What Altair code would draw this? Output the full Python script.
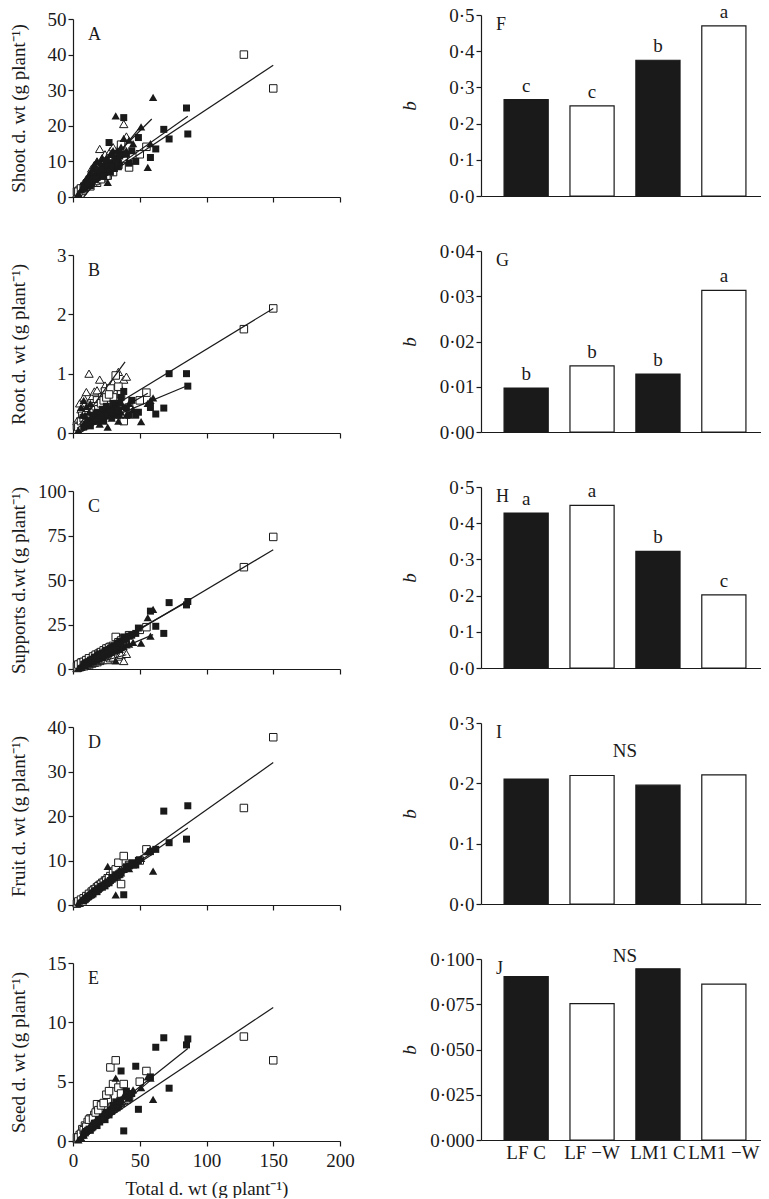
import altair as alt
import pandas as pd

FONT = "Liberation Serif"
INK = "#1a1a1a"
GROUPS = ["LF C", "LF −W", "LM1 C", "LM1 −W"]

# ---------- scatter data (x = total d. wt, per treatment) ----------
# LF C : filled squares
lfc_total = [8, 10, 12, 13, 15, 16, 18, 19, 20, 22, 24, 25, 27, 30, 33, 36, 38, 47, 49, 58, 62, 68, 72, 85, 86,
             9, 11, 14, 17, 21, 23, 26, 28, 29, 31, 32, 34, 35, 40, 42, 44]
lfc_shoot = [3, 3.5, 4.5, 3.2, 5, 6, 5.5, 7, 6, 8, 7, 10, 15.3, 9, 11, 12, 22.3, 10, 16.7, 11.1, 13.5, 19, 16.3, 25, 17.7,
             2.5, 4, 3.8, 5, 7.5, 5.8, 8.5, 7, 9.5, 8, 10.5, 8.5, 11.5, 12, 9.5, 13]
lfc_root = [0.1, 0.15, 0.2, 0.12, 0.25, 0.3, 0.2, 0.35, 0.28, 0.4, 0.3, 0.45, 0.35, 0.5, 0.3, 0.6, 0.7, 0.3, 0.35, 0.43, 0.32, 0.42, 1.0, 1.0, 0.79,
            0.12, 0.18, 0.22, 0.25, 0.3, 0.22, 0.32, 0.4, 0.28, 0.35, 0.45, 0.38, 0.5, 0.42, 0.3, 0.55]
lfc_supp = [2.5, 3.5, 4, 5, 5.5, 6.5, 7, 8, 8.5, 9, 10, 10.5, 11, 12.5, 14, 15, 18, 20, 23, 32.5, 24, 20, 37.3, 36, 37.9,
            3, 3.8, 5, 6, 8, 8.8, 10, 11.5, 12, 13, 12.5, 14.5, 15.5, 17, 18.5, 19]
lfc_fruit = [1, 1.5, 2, 2.2, 2.5, 3, 3, 3.5, 3.8, 4, 4.3, 4.8, 5, 6, 6.5, 7.5, 2.3, 9, 10, 12, 12.5, 21.1, 14, 14.8, 22.3,
             1.2, 1.8, 2.3, 3.2, 4.2, 4.5, 5.2, 5.5, 6, 6.3, 6.8, 7, 7.2, 8.5, 8.8, 9.5]
lfc_seed = [0.6, 0.8, 1.0, 0.9, 1.2, 1.5, 1.3, 1.8, 1.6, 2.0, 1.8, 2.4, 2.2, 3.0, 2.8, 5.9, 0.85, 6.3, 2.67, 5.4, 7.9, 8.7, 4.45, 8.1, 8.6,
            0.7, 0.9, 1.1, 1.5, 1.8, 2.0, 2.3, 2.6, 2.5, 2.9, 3.3, 3.0, 3.4, 4.2, 3.6, 4.0]

# LF -W : open squares
lfw_total = [3, 5, 7, 9, 11, 13, 14, 16, 18, 20, 22, 24, 26, 28, 30, 32, 34, 36, 38, 42, 50, 55, 128, 150,
             4, 6, 8, 10, 12, 15, 17, 19, 21, 23, 25, 27]
lfw_shoot = [1.5, 2, 1.7, 3, 3.5, 3, 4.5, 5, 4, 6, 5.5, 7.5, 6, 8, 7, 12, 9, 14.7, 10.7, 8.3, 12, 14.1, 40, 30.5,
             1.5, 2.4, 2.5, 3, 3.5, 4, 4.5, 5.5, 5, 6.5, 6, 7.5]
lfw_root = [0.12, 0.1, 0.29, 0.2, 0.35, 0.3, 0.5, 0.4, 0.55, 0.45, 0.6, 0.7, 0.5, 0.75, 0.6, 0.97, 0.78, 0.65, 0.2, 0.43, 0.55, 0.68, 1.75, 2.1,
            0.1, 0.2, 0.25, 0.3, 0.25, 0.35, 0.45, 0.4, 0.5, 0.55, 0.6, 0.65]
lfw_supp = [1.5, 2.5, 3.8, 4, 5, 5.5, 6, 7, 8, 9, 9.5, 10.5, 11.5, 12.5, 13, 18, 15, 16, 17, 19, 22, 23.5, 57.2, 74.2,
            2.5, 3.5, 4, 5, 6, 7, 8, 8.5, 9.5, 10.5, 11.5, 12]
lfw_fruit = [0.3, 0.5, 0.75, 1.5, 2, 2.5, 3, 3.5, 4, 4.5, 5, 5.5, 6, 6.5, 7.5, 8, 9.5, 4.7, 11, 9, 10, 12.5, 21.8, 37.7,
             0.8, 1.2, 1.5, 2, 2.5, 3.2, 3.6, 4.2, 4.6, 5, 5.5, 6]
lfw_seed = [0.3, 0.5, 1.0, 1.3, 1.6, 1.9, 1.5, 2.2, 3.1, 2.5, 3.0, 2.8, 3.5, 6.2, 4.8, 6.8, 4.5, 4.0, 4.8, 3.7, 5.0, 5.9, 8.8, 6.8,
            0.3, 0.6, 0.9, 1.2, 1.8, 1.9, 2.4, 2.6, 3.0, 3.2, 3.9, 4.2]

# LM1 C : filled triangles
lmc_total = [4, 6, 8, 9, 10, 11, 12, 13, 14, 15, 16, 17, 18, 20, 22, 24, 26, 28, 30, 32, 35, 38, 51, 56, 58, 60,
             7, 19, 21, 23, 25, 27, 29, 31, 33, 34, 36, 40, 42, 45]
lmc_shoot = [1, 2, 3, 4, 5, 3.5, 6, 7, 5, 8, 9, 6.5, 10, 8, 11, 9, 4.1, 12, 13, 22.8, 10, 16.5, 19.7, 8.3, 15, 28,
             2.5, 7.5, 9.5, 7, 11, 9, 12.5, 10.5, 13, 11, 14, 13, 16, 15]
lmc_root = [0.05, 0.43, 0.55, 0.3, 0.45, 0.2, 0.35, 0.5, 0.25, 0.3, 0.35, 0.2, 0.3, 0.15, 0.25, 0.3, 0.1, 0.35, 0.4, 0.5, 0.3, 0.45, 0.19, 0.5, 0.55, 0.59,
            0.3, 0.25, 0.4, 0.2, 0.45, 0.3, 0.25, 0.35, 0.4, 0.2, 0.35, 0.3, 0.5, 0.4]
lmc_supp = [0.5, 1.5, 2.5, 2, 3, 3.5, 3, 4, 4.5, 4, 5, 5.5, 5, 6.5, 7, 8, 8.5, 9.5, 10, 4.5, 11, 12.5, 14.6, 28.8, 18.4, 33.5,
            2, 6, 6.5, 7.5, 8, 9, 9.5, 10.5, 11, 11.5, 12, 13.5, 14, 15]
lmc_fruit = [0.5, 1, 1.5, 1.8, 2, 2.2, 2.5, 2.8, 3, 3.2, 3.5, 3.8, 3.5, 4, 4.5, 5, 8.7, 6, 6.5, 2.3, 7, 8, 10.5, 12, 12.5, 7.6,
             1.2, 3.8, 4.2, 4.8, 5, 5.5, 5.8, 6.2, 6.5, 6.8, 7.2, 8.5, 8.2, 9]
lmc_seed = [0.1, 0.3, 0.5, 0.7, 0.9, 1.0, 1.1, 1.3, 1.2, 1.5, 1.6, 1.4, 1.8, 2.0, 2.2, 2.3, 2.6, 2.8, 3.0, 5.3, 3.3, 3.8, 4.5, 5.4, 5.3, 3.5,
            0.5, 1.7, 2.0, 2.1, 2.4, 2.5, 2.9, 3.0, 3.2, 3.1, 3.5, 3.9, 4.0, 4.3]

# LM1 -W : open triangles
lmw_total = [3, 5, 6, 8, 10, 12, 14, 16, 18, 20, 22, 24, 26, 28, 30, 34, 36, 38, 40]
lmw_shoot = [1, 2, 3, 4, 5, 6, 8, 9, 10, 13.5, 11, 12, 9, 13, 14, 12, 15, 20.5, 17]
lmw_root = [0.2, 0.5, 0.4, 0.6, 0.69, 1.0, 0.6, 0.7, 0.72, 0.9, 0.65, 0.8, 0.7, 0.6, 0.85, 1.03, 0.75, 0.9, 0.95]
lmw_supp = [0.5, 1, 1.2, 1.5, 2, 2.5, 3, 3.5, 3.8, 4.5, 5, 5.5, 5, 6, 6.5, 7, 8, 4.5, 8.5]
lmw_fruit = [0.5, 1, 1.2, 1.8, 2.2, 2.5, 3, 3.5, 4, 4.5, 5, 5, 5.5, 6, 6.5, 7, 8, 8.5, 9]
lmw_seed = [0.2, 0.5, 0.6, 0.8, 1.0, 1.2, 1.4, 1.5, 1.7, 1.9, 2.0, 2.2, 2.4, 2.6, 2.7, 3.0, 3.2, 3.4, 3.5]

# ---------- regression line end points (order = GROUPS) ----------
shoot_x0 = [8, 4, 5, 8]
shoot_x1 = [86, 150, 59, 51]
shoot_y0 = [2.0, 0.8, 1.7, 0.0]
shoot_y1 = [22.7, 37.0, 21.9, 20.0]
root_x0 = [8, 3, 5, 5]
root_x1 = [86, 150, 56, 39]
root_y0 = [0.07, 0.08, 0.0, 0.15]
root_y1 = [0.8, 2.1, 0.67, 1.2]
supp_x0 = [8, 3, 5, 5]
supp_x1 = [86, 150, 60, 40]
supp_y0 = [4.8, 1.3, 1.8, 1.0]
supp_y1 = [38, 67, 19.3, 8.0]
fruit_x0 = [8, 3, 5, 5]
fruit_x1 = [86, 150, 60, 40]
fruit_y0 = [1.2, 0.8, 0.8, 0.5]
fruit_y1 = [17.3, 32, 11.5, 8.0]
seed_x0 = [8, 3, 5, 5]
seed_x1 = [86, 150, 60, 40]
seed_y0 = [0.8, 0.2, 0.1, 0.2]
seed_y1 = [7.8, 11.25, 5.3, 3.2]

# ---------- allometric coefficients b ----------
b_shoot = [0.266, 0.249, 0.375, 0.470]
b_root = [0.0097, 0.0146, 0.0128, 0.0313]
b_supp = [0.428, 0.449, 0.322, 0.202]
b_fruit = [0.207, 0.213, 0.197, 0.214]
b_seed = [0.0903, 0.0754, 0.0946, 0.0861]
lab_shoot = ["c", "c", "b", "a"]
lab_root = ["b", "b", "b", "a"]
lab_supp = ["a", "a", "b", "c"]
ns_fruit = 0.253
ns_seed = 0.1016

totals = {"LF C": lfc_total, "LF −W": lfw_total, "LM1 C": lmc_total, "LM1 −W": lmw_total}
parts = {
    "shoot": {"LF C": lfc_shoot, "LF −W": lfw_shoot, "LM1 C": lmc_shoot, "LM1 −W": lmw_shoot},
    "root": {"LF C": lfc_root, "LF −W": lfw_root, "LM1 C": lmc_root, "LM1 −W": lmw_root},
    "supp": {"LF C": lfc_supp, "LF −W": lfw_supp, "LM1 C": lmc_supp, "LM1 −W": lmw_supp},
    "fruit": {"LF C": lfc_fruit, "LF −W": lfw_fruit, "LM1 C": lmc_fruit, "LM1 −W": lmw_fruit},
    "seed": {"LF C": lfc_seed, "LF −W": lfw_seed, "LM1 C": lmc_seed, "LM1 −W": lmw_seed},
}
line_ends = {
    "shoot": (shoot_x0, shoot_x1, shoot_y0, shoot_y1),
    "root": (root_x0, root_x1, root_y0, root_y1),
    "supp": (supp_x0, supp_x1, supp_y0, supp_y1),
    "fruit": (fruit_x0, fruit_x1, fruit_y0, fruit_y1),
    "seed": (seed_x0, seed_x1, seed_y0, seed_y1),
}

LW, RW = 267, 288
LTOP = 4
HL = LTOP + 178          # left chart height (plot drawn from LTOP down)
HR = 181                 # right chart height
SUP = "g plant⁻¹"

MARKS = {
    "LM1 −W": dict(shape="triangle-up", filled=True, fill="white", stroke=INK, strokeWidth=1, size=70, opacity=1),
    "LF −W": dict(shape="square", filled=True, fill="white", stroke=INK, strokeWidth=1, size=56, opacity=1),
    "LM1 C": dict(shape="triangle-up", filled=True, color=INK, size=70, opacity=1),
    "LF C": dict(shape="square", filled=True, color=INK, size=49, opacity=1),
}


def left_panel(part, ytitle, ymax, yvals, letter, bottom):
    xax = dict(values=[0, 50, 100, 150, 200], tickSize=5, labelPadding=5)
    if bottom:
        xax.update(labels=True, titlePadding=9)
        xtitle = "Total d. wt (" + SUP + ")"
    else:
        xax.update(labels=False)
        xtitle = None
    x = alt.X("total:Q", scale=alt.Scale(domain=[0, 200], nice=False), axis=alt.Axis(**xax), title=xtitle)
    y = alt.Y("value:Q", scale=alt.Scale(domain=[0, ymax], nice=False, range=[HL, LTOP]),
              axis=alt.Axis(values=yvals, tickSize=5, labelPadding=2, titleX=-55, titleBaseline="middle"),
              title=ytitle)
    layers = []
    for grp, props in MARKS.items():
        df = pd.DataFrame({"total": totals[grp], "value": parts[part][grp]})
        layers.append(alt.Chart(df).mark_point(**props).encode(x=x, y=y))
    x0, x1, y0, y1 = line_ends[part]
    ldf = pd.DataFrame({"grp": GROUPS, "total": x0, "total2": x1, "value": y0, "value2": y1})
    layers.append(alt.Chart(ldf).mark_rule(color=INK, strokeWidth=1.2).encode(
        x=x, x2="total2:Q", y=y, y2="value2:Q"))
    tdf = pd.DataFrame({"t": [letter]})
    layers.append(alt.Chart(tdf).mark_text(align="left", baseline="middle", fontSize=18, font=FONT, color=INK).encode(
        text="t:N", x=alt.value(15), y=alt.value(LTOP + 16)))
    return alt.layer(*layers).properties(width=LW, height=HL)


def right_panel(vals, ymax, yvals, fmt, letter, bottom, labs=None, ns=None):
    df = pd.DataFrame({"grp": GROUPS, "b": vals, "lab": labs if labs else [""] * 4})
    x = alt.X("grp:N", sort=GROUPS,
              scale=alt.Scale(domain=GROUPS, paddingInner=0.33, paddingOuter=0.35),
              axis=alt.Axis(ticks=False, labels=bottom, labelAngle=0, labelPadding=3), title=None)
    y = alt.Y("b:Q", scale=alt.Scale(domain=[0, ymax], nice=False),
              axis=alt.Axis(values=yvals, tickSize=5, labelPadding=2,
                            labelExpr="replace(format(datum.value, '" + fmt + "'), '.', '·')",
                            titleX=-72, titleBaseline="middle", titleFontStyle="italic"),
              title="b")
    layers = [alt.Chart(df).mark_bar(stroke=INK, strokeWidth=1.2).encode(
        x=x, y=y,
        fill=alt.Fill("grp:N", scale=alt.Scale(domain=GROUPS, range=[INK, "white", INK, "white"]), legend=None))]
    if labs:
        layers.append(alt.Chart(df).mark_text(baseline="alphabetic", dy=-8, fontSize=19, font=FONT, color=INK).encode(
            x=x, y=y, text="lab:N"))
    if ns is not None:
        ndf = pd.DataFrame({"t": ["NS"], "b": [ns]})
        layers.append(alt.Chart(ndf).mark_text(baseline="middle", fontSize=19, font=FONT, color=INK).encode(
            x=alt.value(RW / 2), y=y, text="t:N"))
    tdf = pd.DataFrame({"t": [letter]})
    layers.append(alt.Chart(tdf).mark_text(align="left", baseline="middle", fontSize=18, font=FONT, color=INK).encode(
        text="t:N", x=alt.value(15), y=alt.value(10)))
    return alt.layer(*layers).properties(width=RW, height=HR)


lefts = [
    left_panel("shoot", "Shoot d. wt (" + SUP + ")", 50, [0, 10, 20, 30, 40, 50], "A", False),
    left_panel("root", "Root d. wt (" + SUP + ")", 3, [0, 1, 2, 3], "B", False),
    left_panel("supp", "Supports d.wt (" + SUP + ")", 100, [0, 25, 50, 75, 100], "C", False),
    left_panel("fruit", "Fruit d. wt (" + SUP + ")", 40, [0, 10, 20, 30, 40], "D", False),
    left_panel("seed", "Seed d. wt (" + SUP + ")", 15, [0, 5, 10, 15], "E", True),
]
rights = [
    right_panel(b_shoot, 0.5, [0, 0.1, 0.2, 0.3, 0.4, 0.5], ".1f", "F", False, labs=lab_shoot),
    right_panel(b_root, 0.04, [0, 0.01, 0.02, 0.03, 0.04], ".2f", "G", False, labs=lab_root),
    right_panel(b_supp, 0.5, [0, 0.1, 0.2, 0.3, 0.4, 0.5], ".1f", "H", False, labs=lab_supp),
    right_panel(b_fruit, 0.3, [0, 0.1, 0.2, 0.3], ".1f", "I", False, ns=ns_fruit),
    right_panel(b_seed, 0.1, [0, 0.025, 0.05, 0.075, 0.1], ".3f", "J", True, ns=ns_seed),
]

left = alt.vconcat(*lefts, spacing=236 - HL, bounds="flush")
right = alt.vconcat(*rights, spacing=236 - HR, bounds="flush")
chart = alt.hconcat(left, right, spacing=45).properties(
    padding={"left": 0, "top": -6, "right": -8, "bottom": 0}
).configure_view(stroke=None).configure_axis(
    labelFont=FONT, titleFont=FONT, labelFontSize=19, titleFontSize=19,
    labelColor=INK, titleColor=INK, titleFontWeight="normal", grid=False,
    domainColor=INK, tickColor=INK, domainWidth=1.2, tickWidth=1.2, labelFlush=False
)

chart.save("out.html", embed_options={"renderer": "svg", "actions": False})
